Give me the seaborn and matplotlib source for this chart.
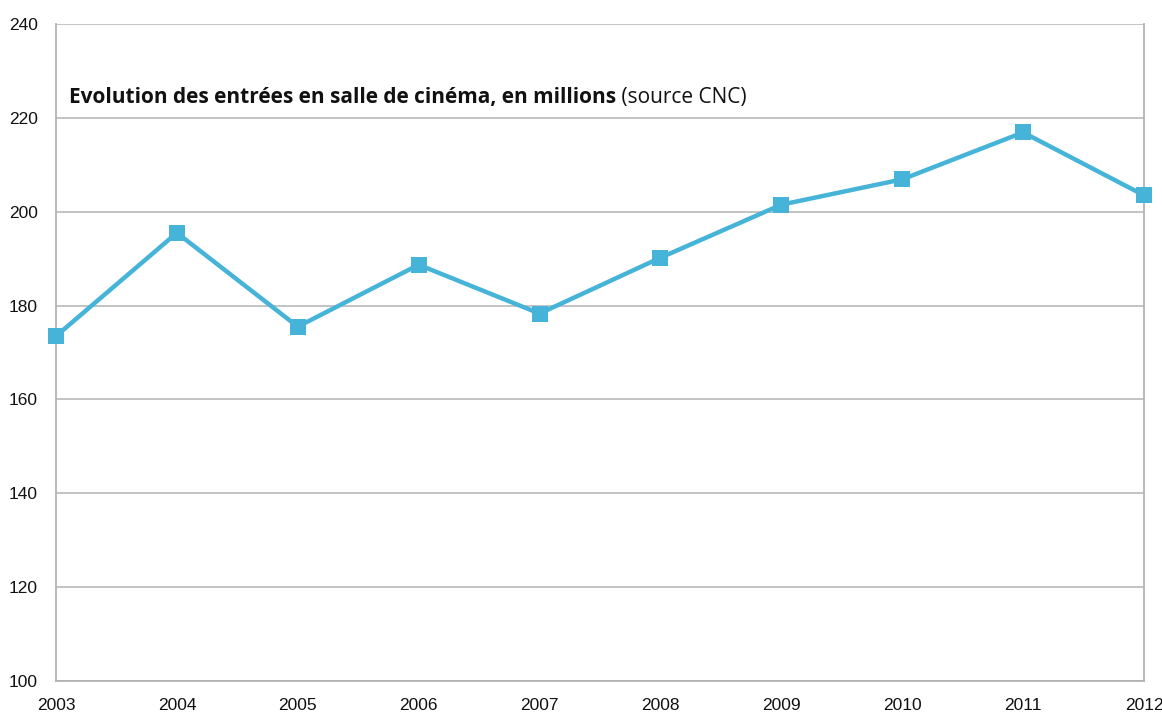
import matplotlib
matplotlib.use("Agg")
import matplotlib.pyplot as plt
import seaborn as sns
import pandas as pd

years = [2003, 2004, 2005, 2006, 2007, 2008, 2009, 2010, 2011, 2012]
entries = [173.5, 195.5, 175.5, 188.7, 178.3, 190.2, 201.5, 206.9, 216.9, 203.5]
y_ticks = [100, 120, 140, 160, 180, 200, 220, 240]

df = pd.DataFrame({"annee": years, "entrees": entries})

sns.set_style("white")
plt.rcParams["font.family"] = ["Liberation Sans", "DejaVu Sans"]

fig = plt.figure(figsize=(11.62, 7.15), dpi=100)
ax = fig.add_axes([0.0482, 0.0476, 0.9363, 0.9188])

line_color = "#45b4d8"
grid_color = "#b3b3b3"

sns.lineplot(data=df, x="annee", y="entrees", ax=ax, color=line_color,
             linewidth=3.2, marker="s", markersize=11.5, markeredgewidth=0,
             clip_on=False, zorder=3)

ax.set_xlim(2003, 2012)
ax.set_ylim(100, 240)
ax.set_xticks(years)
ax.set_xticklabels([str(y) for y in years])
ax.set_yticks(y_ticks)
ax.set_yticklabels([str(v) for v in y_ticks])
ax.set_xlabel("")
ax.set_ylabel("")

ax.yaxis.grid(True, color=grid_color, linewidth=1.1)
ax.xaxis.grid(False)
ax.set_axisbelow(True)

for side in ["left", "right", "bottom"]:
    ax.spines[side].set_visible(True)
    ax.spines[side].set_color(grid_color)
    ax.spines[side].set_linewidth(1.3)
ax.spines["top"].set_visible(False)

ax.tick_params(axis="both", which="major", direction="out", color=grid_color,
               width=1.3, labelsize=12.5, labelcolor="#111111")
ax.tick_params(axis="y", length=10, pad=3)
ax.tick_params(axis="x", length=8, pad=4)

title_bold = ax.annotate("Evolution des entrées en salle de cinéma, en millions",
                         xy=(69, 715 - 103), xycoords="figure pixels",
                         fontsize=15, fontweight="bold", family="Open Sans",
                         color="#111111", ha="left", va="baseline")
ax.annotate(" (source CNC)", xy=(1, 0), xycoords=title_bold,
            fontsize=15, family="Open Sans", color="#111111",
            ha="left", va="bottom")

fig.savefig("out.png", dpi=100)
